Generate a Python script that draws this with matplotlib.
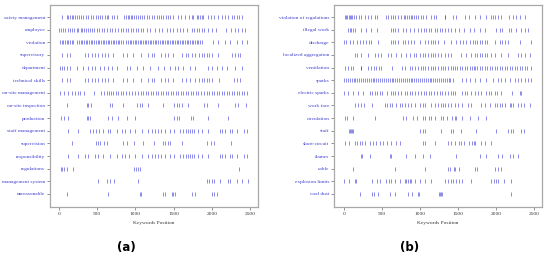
import matplotlib
matplotlib.use("Agg")
import matplotlib.pyplot as plt

# ---------------- data (a) ----------------
words_a = ["safety management", "employee", "violation", "supervisory", "department",
           "technical skills", "on-site management", "on-site inspection", "production",
           "staff management", "supervision", "responsibility", "regulations",
           "management system", "unreasonable"]

pos_a_safety_management = [44, 101, 122, 144, 166, 188, 210, 231, 262, 288, 319, 349, 384, 419, 449, 480, 506, 537, 567, 602, 624, 646, 689, 724, 755, 855, 872, 898, 916, 942, 960, 986, 1003, 1029, 1060, 1090, 1116, 1147, 1178, 1212, 1247, 1278, 1308, 1334, 1365, 1396, 1422, 1452, 1496, 1552, 1596, 1648, 1701, 1736, 1757, 1801, 1823, 1845, 1866, 1888, 1945, 1988, 2032, 2076, 2128, 2172, 2215, 2259, 2294, 2324, 2355, 2390]
pos_a_employee = [0, 26, 57, 79, 114, 144, 175, 201, 231, 253, 288, 306, 332, 349, 375, 406, 436, 462, 493, 524, 558, 593, 624, 667, 698, 733, 768, 811, 842, 872, 907, 942, 973, 1003, 1038, 1073, 1103, 1147, 1190, 1256, 1308, 1352, 1409, 1452, 1496, 1539, 1583, 1627, 1670, 1744, 1770, 1801, 1832, 1866, 1901, 1945, 1997, 2050, 2180, 2250, 2302, 2346, 2390, 2433]
pos_a_violation = [13, 35, 57, 79, 101, 123, 145, 167, 189, 240, 262, 284, 306, 328, 350, 372, 394, 416, 438, 460, 482, 504, 526, 548, 570, 592, 614, 636, 658, 680, 702, 724, 746, 768, 790, 812, 834, 880, 902, 924, 946, 968, 990, 1012, 1034, 1056, 1078, 1100, 1122, 1144, 1166, 1188, 1210, 1232, 1254, 1276, 1298, 1320, 1342, 1364, 1386, 1408, 1430, 1452, 1474, 1496, 1518, 1540, 1562, 1584, 1606, 1628, 1650, 1672, 1694, 1716, 1738, 1760, 1782, 1804, 1826, 1848, 1870, 2020, 2085, 2172, 2237, 2324, 2390, 2455]
pos_a_supervisory = [44, 101, 144, 340, 384, 428, 471, 515, 558, 602, 646, 711, 842, 885, 973, 1073, 1169, 1212, 1247, 1334, 1387, 1422, 1496, 1605, 1657, 1692, 1736, 1779, 1832, 1866, 1901, 1932, 1962, 1997, 2084, 2267, 2302, 2337, 2368]
pos_a_department = [13, 40, 70, 100, 144, 231, 319, 375, 428, 471, 537, 593, 646, 698, 755, 885, 929, 1016, 1103, 1190, 1291, 1378, 1452, 1518, 1561, 1627, 1714, 1779, 1945, 1997, 2063, 2128, 2193, 2302, 2390]
pos_a_technical_skills = [44, 101, 144, 340, 384, 428, 471, 515, 558, 602, 646, 711, 842, 885, 973, 1073, 1169, 1212, 1247, 1334, 1387, 1422, 1496, 1605, 1657, 1714, 1779, 1832, 1866, 1901, 1932, 1962, 1997, 2093, 2294, 2324, 2368]
pos_a_onsite_management = [13, 70, 122, 166, 210, 245, 275, 332, 462, 550, 593, 624, 654, 680, 711, 742, 776, 811, 842, 872, 916, 960, 994, 1038, 1073, 1103, 1134, 1169, 1204, 1234, 1265, 1300, 1334, 1365, 1396, 1430, 1465, 1496, 1526, 1561, 1596, 1627, 1657, 1692, 1727, 1757, 1788, 1823, 1858, 1901, 1932, 1962, 1997, 2032, 2063, 2093, 2128, 2163, 2193, 2224, 2259, 2294, 2324, 2355, 2390, 2425, 2455]
pos_a_onsite_inspection = [101, 362, 384, 419, 667, 698, 842, 1016, 1060, 1090, 1169, 1365, 1509, 1539, 1570, 1605, 1692, 1901, 1932, 2076, 2302, 2337, 2442]
pos_a_production = [26, 70, 122, 362, 384, 406, 646, 689, 776, 885, 994, 1509, 1539, 1570, 1727, 1757, 1954, 2215]
pos_a_staff_management = [122, 253, 406, 449, 480, 524, 580, 637, 667, 755, 820, 864, 929, 994, 1090, 1160, 1212, 1256, 1291, 1334, 1387, 1452, 1509, 1583, 1627, 1657, 1683, 1714, 1744, 1770, 1814, 1866, 1954, 2106, 2137, 2172, 2237, 2259, 2324, 2425, 2455]
pos_a_supervision = [166, 480, 506, 537, 593, 624, 842, 885, 986, 1103, 1247, 1365, 1387, 1422, 1452, 1605, 1932, 1988, 2032, 2250]
pos_a_responsibility = [122, 253, 340, 384, 471, 515, 580, 667, 755, 820, 864, 916, 994, 1090, 1169, 1212, 1256, 1291, 1334, 1387, 1452, 1509, 1583, 1627, 1657, 1683, 1714, 1744, 1770, 1814, 1866, 1954, 2106, 2137, 2172, 2237, 2259, 2324, 2425, 2455]
pos_a_regulations = [26, 44, 70, 101, 188, 986, 1003, 1029, 1060, 2355]
pos_a_management_system = [506, 624, 667, 724, 1038, 1932, 1962, 1997, 2032, 2106, 2206, 2237, 2324, 2398, 2477]
pos_a_unreasonable = [101, 646, 1060, 1073, 1365, 1387, 1474, 1496, 1518, 1736, 1779, 1997, 2032, 2063]

# ---------------- data (b) ----------------
words_b = ["violation of regulations", "illegal work", "discharge", "localized aggregation",
           "ventilation", "sparks", "electric sparks", "work face", "circulation", "staff",
           "short-circuit", "flames", "cable", "explosion limits", "coal dust"]

pos_b_violation_of_regulations = [17, 31, 44, 61, 75, 88, 105, 132, 162, 193, 228, 272, 316, 351, 403, 439, 557, 579, 614, 645, 675, 710, 746, 789, 807, 833, 851, 877, 895, 921, 952, 974, 1009, 1039, 1083, 1140, 1184, 1215, 1325, 1333, 1434, 1478, 1588, 1640, 1719, 1785, 1873, 1930, 1960, 1991, 2026, 2070, 2167, 2224, 2268, 2311, 2377]
pos_b_illegal_work = [53, 75, 96, 118, 140, 228, 294, 360, 439, 623, 645, 675, 710, 776, 820, 864, 921, 974, 1009, 1053, 1083, 1114, 1149, 1193, 1228, 1259, 1289, 1325, 1368, 1412, 1456, 1509, 1579, 1653, 1710, 1785, 1851, 2004, 2048, 2079, 2167, 2202, 2268, 2325, 2377, 2421]
pos_b_discharge = [0, 31, 75, 118, 175, 206, 250, 294, 325, 360, 447, 614, 645, 675, 710, 776, 807, 842, 877, 921, 996, 1070, 1105, 1140, 1171, 1202, 1237, 1316, 1412, 1478, 1522, 1566, 1610, 1653, 1697, 1728, 1754, 1785, 1816, 1851, 1886, 1983, 2048, 2079, 2114, 2158, 2311, 2456]
pos_b_localized_aggregation = [149, 175, 228, 316, 403, 447, 482, 579, 614, 689, 754, 820, 864, 921, 952, 996, 1039, 1070, 1105, 1140, 1171, 1202, 1237, 1281, 1325, 1368, 1412, 1544, 1610, 1667, 1719, 1754, 1785, 1816, 1851, 1886, 1939, 1991, 2070, 2158, 2289, 2333, 2377, 2443]
pos_b_ventilation = [17, 53, 88, 118, 219, 228, 316, 360, 395, 425, 456, 482, 632, 763, 798, 864, 895, 939, 974, 1009, 1039, 1070, 1105, 1140, 1171, 1202, 1237, 1272, 1303, 1333, 1368, 1403, 1434, 1465, 1491, 1522, 1553, 1588, 1623, 1653, 1684, 1710, 1728, 1754, 1785, 1816, 1851, 1886, 1917, 1947, 1982, 2017, 2048, 2079, 2114, 2149, 2180, 2210, 2245, 2281, 2311, 2342, 2377, 2412, 2456]
pos_b_sparks = [0, 25, 50, 75, 100, 125, 150, 175, 200, 225, 250, 275, 300, 325, 350, 375, 400, 425, 450, 475, 500, 525, 550, 575, 600, 625, 650, 675, 700, 725, 750, 775, 800, 825, 850, 875, 900, 925, 950, 975, 1000, 1025, 1050, 1075, 1100, 1125, 1150, 1175, 1200, 1225, 1250, 1275, 1300, 1325, 1350, 1375, 1400, 1434, 1553, 1610, 1653, 1719, 1785, 1873, 1960, 2026, 2070, 2114, 2180, 2246, 2289, 2333, 2377, 2421, 2456]
pos_b_electric_sparks = [0, 53, 118, 184, 250, 338, 368, 403, 439, 469, 500, 570, 614, 645, 675, 710, 746, 798, 833, 864, 895, 930, 974, 1018, 1053, 1083, 1114, 1149, 1184, 1228, 1259, 1289, 1333, 1368, 1412, 1434, 1465, 1553, 1588, 1623, 1675, 1719, 1763, 1807, 1873, 1904, 1939, 1983, 2017, 2061, 2210, 2311, 2325]
pos_b_work_face = [149, 184, 219, 263, 368, 535, 570, 601, 632, 689, 733, 763, 798, 842, 886, 939, 996, 1039, 1070, 1140, 1193, 1237, 1272, 1303, 1333, 1368, 1412, 1456, 1500, 1553, 1632, 1675, 1807, 1851, 1917, 1983, 2017, 2048, 2079, 2114, 2180, 2202, 2224, 2289, 2333, 2368, 2443]
pos_b_circulation = [9, 44, 118, 403, 776, 820, 908, 965, 1039, 1070, 1114, 1140, 1193, 1272, 1303, 1360, 1421, 1456, 1478, 1553, 1653, 1763, 1873]
pos_b_staff = [61, 75, 88, 105, 123, 996, 1039, 1070, 1281, 1412, 1434, 1535, 1741, 2004, 2158, 2193, 2224, 2325, 2368]
pos_b_short_circuit = [17, 61, 140, 175, 206, 237, 272, 338, 382, 425, 469, 513, 570, 623, 689, 733, 1039, 1061, 1202, 1368, 1412, 1465, 1509, 1544, 1579, 1640, 1684, 1710, 1728, 1798, 1860, 1930]
pos_b_flames = [219, 237, 338, 601, 623, 820, 939, 1039, 1127, 1478, 1785, 1873, 2026, 2079, 2180, 2224, 2289]
pos_b_cable = [118, 667, 1070, 1368, 1390, 1447, 1465, 1509, 1719, 1754, 1982, 2026, 2070]
pos_b_explosion_limits = [0, 61, 140, 162, 368, 439, 469, 557, 588, 623, 675, 733, 798, 820, 842, 864, 886, 939, 996, 1061, 1140, 1325, 1368, 1403, 1434, 1478, 1509, 1553, 1675, 1939, 1974, 2004, 2026, 2105, 2193]
pos_b_coal_dust = [211, 373, 395, 452, 605, 671, 838, 899, 970, 991, 1250, 1263, 1276, 1294, 2198]

series_a = [pos_a_safety_management, pos_a_employee, pos_a_violation, pos_a_supervisory,
            pos_a_department, pos_a_technical_skills, pos_a_onsite_management,
            pos_a_onsite_inspection, pos_a_production, pos_a_staff_management,
            pos_a_supervision, pos_a_responsibility, pos_a_regulations,
            pos_a_management_system, pos_a_unreasonable]
series_b = [pos_b_violation_of_regulations, pos_b_illegal_work, pos_b_discharge,
            pos_b_localized_aggregation, pos_b_ventilation, pos_b_sparks,
            pos_b_electric_sparks, pos_b_work_face, pos_b_circulation, pos_b_staff,
            pos_b_short_circuit, pos_b_flames, pos_b_cable, pos_b_explosion_limits,
            pos_b_coal_dust]

xticks = [0, 500, 1000, 1500, 2000, 2500]
xlabel = "Keywords Position"
panel_labels = ["(a)", "(b)"]

# ---------------- plotting ----------------
fig = plt.figure(figsize=(5.5, 2.58), dpi=100)
ax_a = fig.add_axes([50 / 550, 1 - 207 / 258, 208 / 550, 202 / 258])
ax_b = fig.add_axes([334 / 550, 1 - 207 / 258, 208 / 550, 202 / 258])

mark_color = "#3c3cd8"
label_color = "#4040d0"
serif = "Liberation Serif"

def draw(ax, words, series, xmin):
    n = len(words)
    for i, pos in enumerate(series):
        y = n - 1 - i
        ax.plot(pos, [y] * len(pos), linestyle="none", marker="|",
                markersize=3.0, markeredgewidth=0.55, color=mark_color, alpha=0.75)
    ax.set_yticks(range(n))
    ax.set_yticklabels(list(reversed(words)), fontsize=3.9, family=serif, color=label_color)
    ax.set_ylim(-1.03, n - 1 + 0.95)
    ax.set_xlim(xmin, 2605)
    ax.set_xticks(xticks)
    ax.set_xticklabels([str(t) for t in xticks], fontsize=3.9, family=serif, color="#333333")
    ax.set_xlabel(xlabel, fontsize=3.9, family=serif, color="#333333", labelpad=3.5)
    ax.tick_params(axis="both", length=2, width=0.5, color="#666666", pad=1.5)
    for s in ax.spines.values():
        s.set_color("#a8a8a8")
        s.set_linewidth(0.9)

draw(ax_a, words_a, series_a, -118)
draw(ax_b, words_b, series_b, -132)

fig.text(126 / 550, 1 - 248 / 258, panel_labels[0], fontsize=8.5, fontweight="bold",
         ha="center", va="center", family="DejaVu Sans")
fig.text(410 / 550, 1 - 248 / 258, panel_labels[1], fontsize=8.5, fontweight="bold",
         ha="center", va="center", family="DejaVu Sans")

fig.savefig("out.png", dpi=100, facecolor="white")
